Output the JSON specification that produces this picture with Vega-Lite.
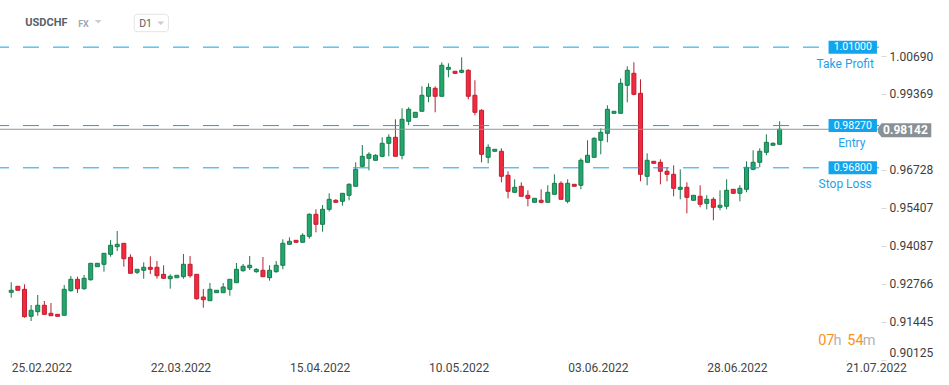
{
"$schema": "https://vega.github.io/schema/vega-lite/v6.json",
"width": 881,
"height": 360,
"autosize": {"type": "none"},
"padding": {"left": 0, "top": 0, "right": 68, "bottom": 25},
"background": "#ffffff",
"config": {"view": {"stroke": null}, "font": "Roboto"},
"datasets": {
"candles": [
{"i":0,"o":0.92468,"h":0.92816,"l":0.92280,"c":0.92538},
{"i":1,"o":0.92677,"h":0.92677,"l":0.92538,"c":0.92538},
{"i":2,"o":0.92572,"h":0.92746,"l":0.91584,"c":0.91619},
{"i":3,"o":0.91633,"h":0.92026,"l":0.91469,"c":0.91842},
{"i":4,"o":0.91793,"h":0.92374,"l":0.91654,"c":0.92016},
{"i":5,"o":0.92016,"h":0.92165,"l":0.91678,"c":0.91702},
{"i":6,"o":0.91737,"h":0.92096,"l":0.91654,"c":0.91654},
{"i":7,"o":0.91702,"h":0.91702,"l":0.91633,"c":0.91633},
{"i":8,"o":0.91668,"h":0.92722,"l":0.91668,"c":0.92572},
{"i":9,"o":0.92524,"h":0.93035,"l":0.92489,"c":0.92920},
{"i":10,"o":0.92920,"h":0.93011,"l":0.92444,"c":0.92593},
{"i":11,"o":0.92593,"h":0.93070,"l":0.92558,"c":0.92955},
{"i":12,"o":0.92906,"h":0.93477,"l":0.92872,"c":0.93477},
{"i":13,"o":0.93359,"h":0.93477,"l":0.93359,"c":0.93477},
{"i":14,"o":0.93442,"h":0.93825,"l":0.93185,"c":0.93825},
{"i":15,"o":0.93790,"h":0.94288,"l":0.93707,"c":0.94104},
{"i":16,"o":0.94055,"h":0.94601,"l":0.93905,"c":0.94138},
{"i":17,"o":0.94173,"h":0.94173,"l":0.93359,"c":0.93637},
{"i":18,"o":0.93686,"h":0.93790,"l":0.93129,"c":0.93129},
{"i":19,"o":0.93164,"h":0.93268,"l":0.93105,"c":0.93268},
{"i":20,"o":0.93234,"h":0.93512,"l":0.92941,"c":0.93338},
{"i":21,"o":0.93338,"h":0.93721,"l":0.93105,"c":0.93268},
{"i":22,"o":0.93338,"h":0.93557,"l":0.92941,"c":0.93046},
{"i":23,"o":0.93094,"h":0.93408,"l":0.92941,"c":0.92955},
{"i":24,"o":0.92941,"h":0.93094,"l":0.92593,"c":0.93025},
{"i":25,"o":0.92976,"h":0.93060,"l":0.92976,"c":0.93060},
{"i":26,"o":0.93011,"h":0.93801,"l":0.92941,"c":0.93442},
{"i":27,"o":0.93442,"h":0.93731,"l":0.92976,"c":0.93046},
{"i":28,"o":0.93094,"h":0.93094,"l":0.92210,"c":0.92245},
{"i":29,"o":0.92304,"h":0.92583,"l":0.91932,"c":0.92210},
{"i":30,"o":0.92176,"h":0.92792,"l":0.92176,"c":0.92572},
{"i":31,"o":0.92454,"h":0.92538,"l":0.92454,"c":0.92538},
{"i":32,"o":0.92454,"h":0.92792,"l":0.92454,"c":0.92652},
{"i":33,"o":0.92572,"h":0.92920,"l":0.92350,"c":0.92920},
{"i":34,"o":0.92802,"h":0.93488,"l":0.92802,"c":0.93268},
{"i":35,"o":0.93220,"h":0.93453,"l":0.93185,"c":0.93373},
{"i":36,"o":0.93324,"h":0.93731,"l":0.93244,"c":0.93408},
{"i":37,"o":0.93185,"h":0.93303,"l":0.93150,"c":0.93268},
{"i":38,"o":0.93234,"h":0.93696,"l":0.93011,"c":0.93011},
{"i":39,"o":0.92976,"h":0.93408,"l":0.92872,"c":0.93234},
{"i":40,"o":0.93185,"h":0.93557,"l":0.93150,"c":0.93408},
{"i":41,"o":0.93408,"h":0.94312,"l":0.93268,"c":0.94173},
{"i":42,"o":0.94138,"h":0.94382,"l":0.94138,"c":0.94243},
{"i":43,"o":0.94278,"h":0.94278,"l":0.94208,"c":0.94208},
{"i":44,"o":0.94208,"h":0.94521,"l":0.94208,"c":0.94452},
{"i":45,"o":0.94417,"h":0.95217,"l":0.94333,"c":0.95182},
{"i":46,"o":0.95182,"h":0.95356,"l":0.94556,"c":0.94834},
{"i":47,"o":0.94834,"h":0.95506,"l":0.94577,"c":0.95356},
{"i":48,"o":0.95356,"h":0.95913,"l":0.95280,"c":0.95704},
{"i":49,"o":0.95670,"h":0.95704,"l":0.95600,"c":0.95600},
{"i":50,"o":0.95635,"h":0.95913,"l":0.95482,"c":0.95913},
{"i":51,"o":0.95844,"h":0.96261,"l":0.95670,"c":0.96226},
{"i":52,"o":0.96157,"h":0.96992,"l":0.96157,"c":0.96748},
{"i":53,"o":0.96853,"h":0.97594,"l":0.96818,"c":0.97201},
{"i":54,"o":0.97131,"h":0.97340,"l":0.96714,"c":0.97270},
{"i":55,"o":0.97062,"h":0.97270,"l":0.97062,"c":0.97236},
{"i":56,"o":0.97201,"h":0.97862,"l":0.97166,"c":0.97653},
{"i":57,"o":0.97653,"h":0.97966,"l":0.97201,"c":0.97862},
{"i":58,"o":0.97862,"h":0.98488,"l":0.97201,"c":0.97201},
{"i":59,"o":0.97236,"h":0.98871,"l":0.97096,"c":0.98488},
{"i":60,"o":0.98419,"h":0.98906,"l":0.98280,"c":0.98836},
{"i":61,"o":0.98558,"h":0.98732,"l":0.98558,"c":0.98732},
{"i":62,"o":0.98767,"h":0.99637,"l":0.98767,"c":0.99324},
{"i":63,"o":0.99289,"h":0.99741,"l":0.99080,"c":0.99602},
{"i":64,"o":0.99567,"h":0.99637,"l":0.98732,"c":0.99289},
{"i":65,"o":0.99289,"h":1.00472,"l":0.99289,"c":1.00368},
{"i":66,"o":1.00228,"h":1.00437,"l":0.99950,"c":1.00298},
{"i":67,"o":1.00159,"h":1.00159,"l":1.00060,"c":1.00089},
{"i":68,"o":1.00124,"h":1.00646,"l":1.00089,"c":1.00194},
{"i":69,"o":1.00194,"h":1.00228,"l":0.99184,"c":0.99289},
{"i":70,"o":0.99324,"h":0.99846,"l":0.98628,"c":0.98732},
{"i":71,"o":0.98802,"h":0.98836,"l":0.96992,"c":0.97270},
{"i":72,"o":0.97166,"h":0.97618,"l":0.96957,"c":0.97514},
{"i":73,"o":0.97375,"h":0.97444,"l":0.97375,"c":0.97444},
{"i":74,"o":0.97375,"h":0.97479,"l":0.96296,"c":0.96505},
{"i":75,"o":0.96540,"h":0.96679,"l":0.95739,"c":0.95983},
{"i":76,"o":0.95948,"h":0.96400,"l":0.95948,"c":0.96122},
{"i":77,"o":0.96157,"h":0.96296,"l":0.95809,"c":0.95809},
{"i":78,"o":0.95844,"h":0.96018,"l":0.95461,"c":0.95739},
{"i":79,"o":0.95600,"h":0.95739,"l":0.95600,"c":0.95739},
{"i":80,"o":0.95670,"h":0.96052,"l":0.95565,"c":0.95600},
{"i":81,"o":0.95600,"h":0.96192,"l":0.95600,"c":0.95948},
{"i":82,"o":0.95878,"h":0.96574,"l":0.95878,"c":0.96261},
{"i":83,"o":0.96261,"h":0.96331,"l":0.95704,"c":0.95704},
{"i":84,"o":0.95635,"h":0.96400,"l":0.95565,"c":0.96261},
{"i":85,"o":0.96226,"h":0.96226,"l":0.96157,"c":0.96157},
{"i":86,"o":0.96192,"h":0.97131,"l":0.96052,"c":0.97062},
{"i":87,"o":0.96992,"h":0.97758,"l":0.96992,"c":0.97236},
{"i":88,"o":0.97166,"h":0.97862,"l":0.97166,"c":0.97827},
{"i":89,"o":0.97758,"h":0.98175,"l":0.97270,"c":0.98036},
{"i":90,"o":0.98001,"h":0.98976,"l":0.97688,"c":0.98836},
{"i":91,"o":0.98697,"h":0.98767,"l":0.98697,"c":0.98767},
{"i":92,"o":0.98697,"h":0.99915,"l":0.98697,"c":0.99741},
{"i":93,"o":0.99672,"h":1.00333,"l":0.99080,"c":1.00194},
{"i":94,"o":1.00089,"h":1.00472,"l":0.99324,"c":0.99358},
{"i":95,"o":0.99393,"h":0.99880,"l":0.96331,"c":0.96574},
{"i":96,"o":0.96505,"h":0.97305,"l":0.96192,"c":0.97062},
{"i":97,"o":0.97027,"h":0.97027,"l":0.96957,"c":0.96957},
{"i":98,"o":0.96992,"h":0.97096,"l":0.96226,"c":0.96679},
{"i":99,"o":0.96679,"h":0.96818,"l":0.96331,"c":0.96574},
{"i":100,"o":0.96574,"h":0.96888,"l":0.95809,"c":0.96087},
{"i":101,"o":0.96052,"h":0.96748,"l":0.95704,"c":0.96122},
{"i":102,"o":0.96122,"h":0.96296,"l":0.95217,"c":0.95774},
{"i":103,"o":0.95670,"h":0.95844,"l":0.95670,"c":0.95844},
{"i":104,"o":0.95809,"h":0.96192,"l":0.95426,"c":0.95530},
{"i":105,"o":0.95565,"h":0.95844,"l":0.95356,"c":0.95704},
{"i":106,"o":0.95704,"h":0.95774,"l":0.94974,"c":0.95426},
{"i":107,"o":0.95426,"h":0.96018,"l":0.95322,"c":0.95496},
{"i":108,"o":0.95461,"h":0.96400,"l":0.95356,"c":0.96018},
{"i":109,"o":0.96052,"h":0.96052,"l":0.95913,"c":0.95913},
{"i":110,"o":0.95913,"h":0.96192,"l":0.95635,"c":0.96087},
{"i":111,"o":0.96052,"h":0.97027,"l":0.95948,"c":0.96818},
{"i":112,"o":0.96748,"h":0.97410,"l":0.96714,"c":0.96992},
{"i":113,"o":0.96992,"h":0.97479,"l":0.96818,"c":0.97375},
{"i":114,"o":0.97340,"h":0.97966,"l":0.97236,"c":0.97688},
{"i":115,"o":0.97584,"h":0.97688,"l":0.97584,"c":0.97653},
{"i":116,"o":0.97618,"h":0.98419,"l":0.97618,"c":0.98142}
],
"levels": [
{"name":"Take Profit","level":1.01,"tag":"1.01000"},
{"name":"Entry","level":0.9827,"tag":"0.98270"},
{"name":"Stop Loss","level":0.968,"tag":"0.96800"}
],
"one": [{}]
},
"layer": [
{
"data": {"name": "candles"},
"mark": {"type": "rule", "strokeWidth": 1},
"encoding": {
"x": {"field": "i", "type": "quantitative", "scale": {"domain": [-0.94, 130.55], "nice": false, "zero": false},
"axis": {"orient": "bottom", "values": [0,21,42,63,84,105,126], "labelExpr": "['25.02.2022','22.03.2022','15.04.2022','10.05.2022','03.06.2022','28.06.2022','21.07.2022'][round(datum.value/21)]", "labelAlign": "left", "labelFlush": false, "labelOverlap": false, "labelBound": false, "title": null, "domain": false, "grid": false, "ticks": true, "tickSize": 2, "tickColor": "#e6e6e6", "labelPadding": 0, "labelFont": "Roboto", "labelFontSize": 12, "labelColor": "#454545"}},
"y": {"field": "l", "type": "quantitative", "scale": {"domain": [0.90112, 1.0264], "nice": false, "zero": false},
"axis": {"orient": "right", "values": [0.90125,0.91445,0.92766,0.94087,0.95407,0.96728,0.99369,1.0069], "format": ".5f", "title": null, "domain": false, "grid": false, "ticks": true, "tickSize": 5, "tickColor": "#d9d9d9", "labelPadding": 3, "labelFont": "Roboto", "labelFontSize": 12, "labelColor": "#3d3d3d", "labelFlush": true}},
"y2": {"field": "h"},
"color": {"condition": {"test": "datum.c >= datum.o", "value": "#187a4c"}, "value": "#bf1f30"}
}
},
{
"data": {"name": "candles"},
"mark": {"type": "bar", "width": 4, "strokeWidth": 1},
"encoding": {
"x": {"field": "i", "type": "quantitative"},
"y": {"field": "o", "type": "quantitative"},
"y2": {"field": "c"},
"fill": {"condition": {"test": "datum.c >= datum.o", "value": "#22a86e"}, "value": "#f2293f"},
"stroke": {"condition": {"test": "datum.c >= datum.o", "value": "#187a4c"}, "value": "#bf1f30"}
}
},
{
"data": {"name": "levels"},
"mark": {"type": "rule", "color": "#14a0ea", "strokeWidth": 1, "strokeDash": [16, 14], "strokeDashOffset": 28},
"encoding": {"y": {"field": "level", "type": "quantitative"}}
},
{
"data": {"name": "candles"},
"transform": [{"filter": "datum.i == 116"}],
"mark": {"type": "rule", "color": "#8d959a", "strokeWidth": 1},
"encoding": {"y": {"field": "c", "type": "quantitative"}}
},
{
"data": {"name": "levels"},
"mark": {"type": "point", "shape": "M-3.723,-1L3.723,-1L3.723,1L-3.723,1Z", "size": 169, "filled": true, "opacity": 1, "color": "#12a5ee", "strokeWidth": 0},
"encoding": {
"x": {"datum": 127.04, "type": "quantitative"},
"y": {"field": "level", "type": "quantitative"}
}
},
{
"data": {"name": "levels"},
"mark": {"type": "text", "color": "#ffffff", "fontSize": 10.5, "font": "Roboto", "align": "center", "baseline": "middle"},
"encoding": {
"x": {"datum": 127.04, "type": "quantitative"},
"y": {"field": "level", "type": "quantitative"},
"text": {"field": "tag"}
}
},
{
"data": {"name": "levels"},
"transform": [{"filter": "datum.name != 'Entry'"}],
"mark": {"type": "text", "color": "#1ea1e6", "fontSize": 12, "font": "Roboto", "align": "center", "baseline": "alphabetic", "dy": 20.5},
"encoding": {
"x": {"datum": 125.9, "type": "quantitative"},
"y": {"field": "level", "type": "quantitative"},
"text": {"field": "name"}
}
},
{
"data": {"name": "levels"},
"transform": [{"filter": "datum.name == 'Entry'"}],
"mark": {"type": "text", "color": "#1ea1e6", "fontSize": 12, "font": "Roboto", "align": "center", "baseline": "alphabetic", "dy": 21.5},
"encoding": {
"x": {"datum": 126.9, "type": "quantitative"},
"y": {"field": "level", "type": "quantitative"},
"text": {"field": "name"}
}
},
{
"data": {"name": "candles"},
"transform": [{"filter": "datum.i == 116"}],
"mark": {"type": "point", "shape": "M-3.8,-0.35L-3.3,-1L3.8,-1L3.8,1L-3.3,1L-3.8,0.35Z", "size": 196, "filled": true, "opacity": 1, "color": "#899196", "strokeWidth": 0, "yOffset": 1},
"encoding": {
"x": {"datum": 134.88, "type": "quantitative"},
"y": {"field": "c", "type": "quantitative"}
}
},
{
"data": {"name": "candles"},
"transform": [{"filter": "datum.i == 116"}],
"mark": {"type": "text", "color": "#ffffff", "fontSize": 12, "fontWeight": "bold", "font": "Roboto", "align": "center", "baseline": "middle", "dy": 1},
"encoding": {
"x": {"datum": 135.0, "type": "quantitative"},
"y": {"field": "c", "type": "quantitative"},
"text": {"field": "c", "type": "quantitative", "format": ".5f"}
}
},
{
"data": {"name": "one"},
"mark": {"type": "text", "text": "USDCHF", "color": "#56616b", "fontSize": 11, "fontWeight": "bold", "font": "Roboto", "align": "left", "baseline": "middle"},
"encoding": {
"x": {"datum": 2.12, "type": "quantitative"},
"y": {"datum": 1.0184, "type": "quantitative"}
}
},
{
"data": {"name": "one"},
"mark": {"type": "text", "text": "FX", "color": "#a0aab2", "fontSize": 9, "fontWeight": "bold", "font": "Roboto", "align": "left", "baseline": "middle"},
"encoding": {
"x": {"datum": 10.1, "type": "quantitative"},
"y": {"datum": 1.01805, "type": "quantitative"}
}
},
{
"data": {"name": "one"},
"mark": {"type": "point", "shape": "M-1,-0.5L1,-0.5L0,0.5Z", "size": 49, "filled": true, "opacity": 1, "color": "#c8ced3", "strokeWidth": 0},
"encoding": {
"x": {"datum": 13.13, "type": "quantitative"},
"y": {"datum": 1.01885, "type": "quantitative"}
}
},
{
"data": {"name": "one"},
"mark": {"type": "rect", "fill": "#ffffff", "stroke": "#e1e4e7", "strokeWidth": 1, "cornerRadius": 3},
"encoding": {
"x": {"datum": 18.57, "type": "quantitative"},
"x2": {"datum": 23.73},
"y": {"datum": 1.02142, "type": "quantitative"},
"y2": {"datum": 1.01537}
}
},
{
"data": {"name": "one"},
"mark": {"type": "text", "text": "D1", "color": "#56616b", "fontSize": 10.5, "font": "Roboto", "align": "left", "baseline": "middle"},
"encoding": {
"x": {"datum": 19.31, "type": "quantitative"},
"y": {"datum": 1.01805, "type": "quantitative"}
}
},
{
"data": {"name": "one"},
"mark": {"type": "point", "shape": "M-1,-0.5L1,-0.5L0,0.5Z", "size": 49, "filled": true, "opacity": 1, "color": "#c8ced3", "strokeWidth": 0},
"encoding": {
"x": {"datum": 22.57, "type": "quantitative"},
"y": {"datum": 1.0183, "type": "quantitative"}
}
},
{
"data": {"name": "one"},
"mark": {"type": "text", "text": "07", "color": "#f7931e", "fontSize": 14.5, "font": "Roboto", "align": "left", "baseline": "alphabetic"},
"encoding": {
"x": {"datum": 121.82, "type": "quantitative"},
"y": {"datum": 0.90634, "type": "quantitative"}
}
},
{
"data": {"name": "one"},
"mark": {"type": "text", "text": "h", "color": "#b3b3b3", "fontSize": 14.5, "font": "Roboto", "align": "left", "baseline": "alphabetic"},
"encoding": {
"x": {"datum": 124.13, "type": "quantitative"},
"y": {"datum": 0.90634, "type": "quantitative"}
}
},
{
"data": {"name": "one"},
"mark": {"type": "text", "text": "54", "color": "#f7931e", "fontSize": 14.5, "font": "Roboto", "align": "left", "baseline": "alphabetic"},
"encoding": {
"x": {"datum": 126.22, "type": "quantitative"},
"y": {"datum": 0.90634, "type": "quantitative"}
}
},
{
"data": {"name": "one"},
"mark": {"type": "text", "text": "m", "color": "#b3b3b3", "fontSize": 14.5, "font": "Roboto", "align": "left", "baseline": "alphabetic"},
"encoding": {
"x": {"datum": 128.54, "type": "quantitative"},
"y": {"datum": 0.90634, "type": "quantitative"}
}
}
]
}
